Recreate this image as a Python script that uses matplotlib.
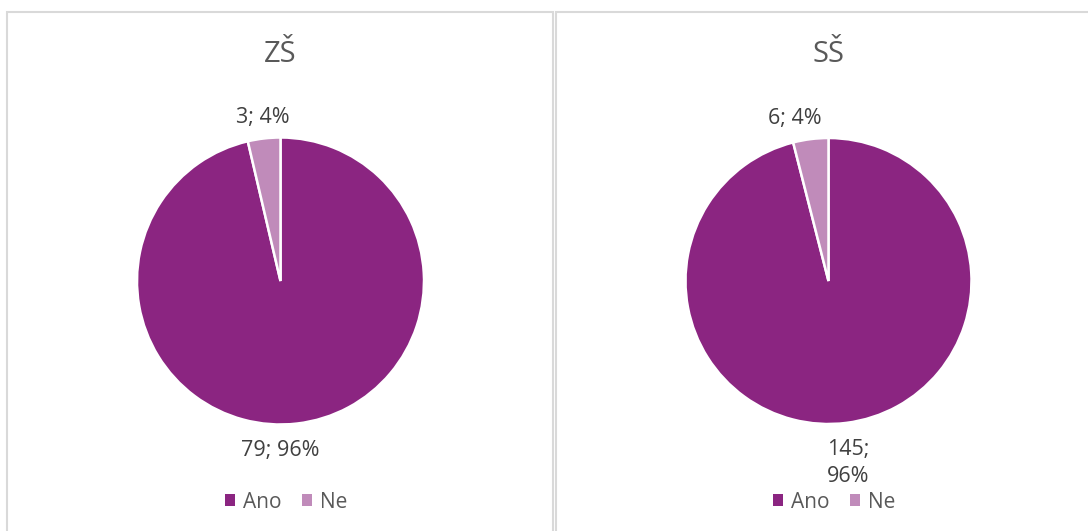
import matplotlib.pyplot as plt
import numpy as np
from matplotlib.patches import Rectangle

# Data
titles = ["ZŠ", "SŠ"]
categories = ["Ano", "Ne"]
zs_values = [79, 3]
ss_values = [145, 6]
colors = ["#8B2581", "#C08BBA"]

plt.rcParams['font.family'] = ['Open Sans', 'DejaVu Sans']

W, H = 1088, 531
fig = plt.figure(figsize=(W / 100, H / 100), dpi=100)


def px_box(x0, y0, w, h):
    """pixel box (top-left origin) -> figure fraction rect"""
    return [x0 / W, 1 - (y0 + h) / H, w / W, h / H]


# panel frames (open at the bottom / right edge like the cropped source)
for x0, x1 in [(7, 553), (556, 1100)]:
    fig.patches.append(Rectangle((x0 / W, -0.05), (x1 - x0) / W, 1.05 - 12 / H,
                                 transform=fig.transFigure, fill=False,
                                 edgecolor="#D9D9D9", linewidth=1.5))

# values, title, centre x, radius, wrap big label, label x-shifts (big, small)
panels = [
    (zs_values, titles[0], 280.5, 143.5, False, (-0.13, 0.0)),
    (ss_values, titles[1], 828.5, 143.0, True, (0.0, -0.1)),
]

for values, title, cx, r, wrap, shifts in panels:
    cy = 281
    ax = fig.add_axes(px_box(cx - r, cy - r, 2 * r, 2 * r))
    wedges, _ = ax.pie(values, colors=colors, startangle=90, counterclock=False,
                       radius=1, wedgeprops=dict(edgecolor="white", linewidth=1.8))
    ax.set_xlim(-1, 1)
    ax.set_ylim(-1, 1)
    ax.set_aspect('equal')
    ax.axis('off')

    # data labels "value; percent" just outside the slice
    total = sum(values)
    for w, v in zip(wedges, values):
        pct = round(100 * v / total)
        mid = np.deg2rad((w.theta1 + w.theta2) / 2)
        big = v == max(values)
        sep = ";\n" if (wrap and big) else "; "
        up = np.sin(mid) > 0
        dist = 1.07 if up else 1.115
        xoff = shifts[0] if big else shifts[1]
        ax.text(np.cos(mid) * dist + xoff, np.sin(mid) * dist, f"{v}{sep}{pct}%",
                ha="center", va="bottom" if up else "top",
                fontsize=15.5, color="#404040", clip_on=False, linespacing=1.35)

    fig.text(cx / W, 1 - 55 / H, title, ha="center", va="center",
             fontsize=21, color="#595959")

    handles = [Rectangle((0, 0), 1, 1, facecolor=c) for c in colors]
    fig.legend(handles, categories, loc="center", ncol=2, frameon=False,
               bbox_to_anchor=((cx + 6) / W, 1 - 502 / H),
               fontsize=15, labelcolor="#595959", handlelength=0.45,
               handleheight=0.45, handletextpad=0.4, columnspacing=1.0)

fig.savefig("out.png", dpi=100)
